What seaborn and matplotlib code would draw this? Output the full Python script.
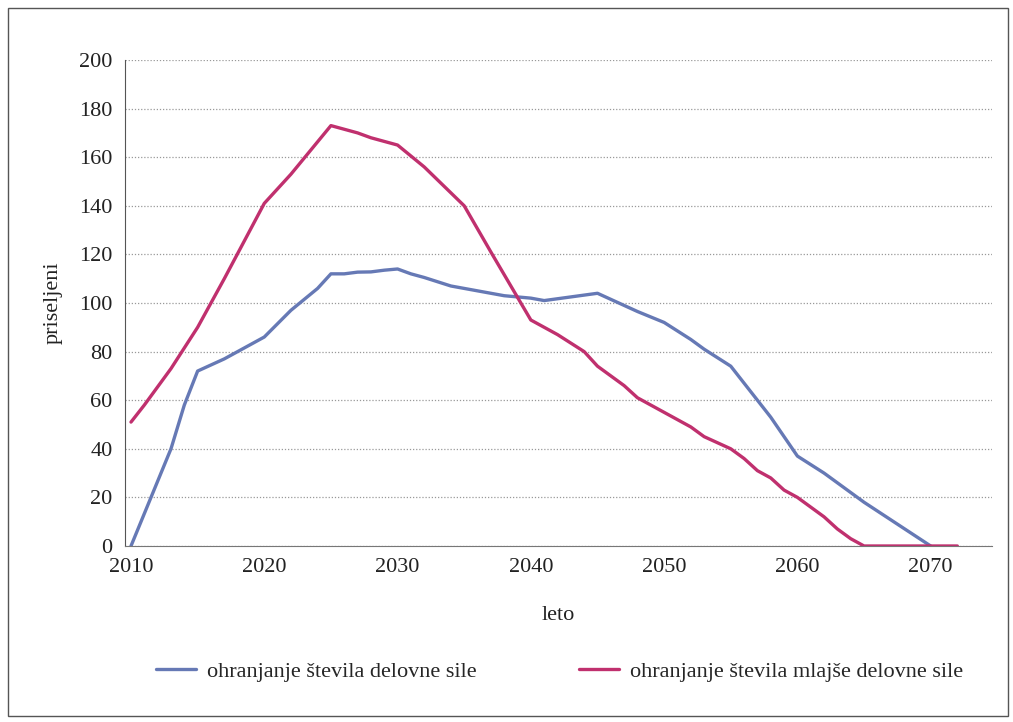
import numpy as np
import pandas as pd
import matplotlib
matplotlib.use("Agg")
import matplotlib.pyplot as plt
import seaborn as sns
from matplotlib.patches import Rectangle

# Podatki (odčitani z grafa)
leta_delovna = [2010, 2013, 2014, 2015, 2017, 2019, 2020, 2022, 2024, 2025, 2026, 2027,
                2028, 2029, 2030, 2031, 2032, 2034, 2036, 2037, 2038, 2040, 2041, 2043,
                2045, 2047, 2048, 2050, 2052, 2053, 2055, 2056, 2057, 2058, 2059, 2060,
                2062, 2065, 2070]
delovna_sila = [0, 40, 58, 72, 77, 83, 86, 97, 106, 112, 112, 112.7,
                112.8, 113.5, 114, 112, 110.5, 107, 105, 104, 103, 102, 101, 102.5,
                104, 99, 96.5, 92, 85, 81, 74, 67, 60, 53, 45, 37,
                30, 18, 0]

leta_mlajsa = [2010, 2011, 2013, 2015, 2017, 2020, 2022, 2025, 2027, 2028, 2030, 2032,
               2035, 2037, 2040, 2042, 2044, 2045, 2047, 2048, 2050, 2052, 2053, 2055,
               2056, 2057, 2058, 2059, 2060, 2062, 2063, 2064, 2065, 2066, 2068, 2070, 2072]
mlajsa_sila = [51, 58, 73, 90, 110, 141, 153, 173, 170, 168, 165, 156,
               140, 121, 93, 87, 80, 74, 66, 61, 55, 49, 45, 40,
               36, 31, 28, 23, 20, 12, 7, 3, 0, 0, 0, 0, 0]

oznaka_1 = "ohranjanje števila delovne sile"
oznaka_2 = "ohranjanje števila mlajše delovne sile"

df = pd.concat([
    pd.DataFrame({"leto": leta_delovna, "priseljeni": delovna_sila, "scenarij": oznaka_1}),
    pd.DataFrame({"leto": leta_mlajsa, "priseljeni": mlajsa_sila, "scenarij": oznaka_2}),
])

sns.set_style("white")
plt.rcParams["font.family"] = ["Liberation Serif", "DejaVu Serif"]

fig = plt.figure(figsize=(10.13, 7.22), dpi=100)
ax = fig.add_axes([125 / 1013, 176 / 722, 867 / 1013, 486 / 722])

sns.lineplot(data=df, x="leto", y="priseljeni", hue="scenarij", ax=ax,
             palette={oznaka_1: "#6679b5", oznaka_2: "#c0306e"},
             linewidth=2.4, sort=False, estimator=None)

ax.set_xlim(2009.55, 2074.6)
ax.set_ylim(0, 200)
ax.set_xticks(range(2010, 2071, 10))
ax.set_yticks(range(0, 201, 20))
ax.yaxis.grid(True, linestyle=(0, (1, 1.5)), color="#999999", linewidth=0.9)
ax.set_axisbelow(True)
for s in ["top", "right"]:
    ax.spines[s].set_visible(False)
ax.spines["left"].set_color("#555555")
ax.spines["bottom"].set_color("#777777")
ax.tick_params(axis="both", labelsize=16, direction="out", length=5,
               color="#555555", labelcolor="#222222")
ax.tick_params(axis="y", pad=4)
ax.set_xlabel("leto", fontsize=16, labelpad=21, color="#222222")
ax.set_ylabel("priseljeni", fontsize=16, labelpad=12, color="#222222")

ax.legend(loc="center", bbox_to_anchor=(0.501, -0.259), ncol=2, frameon=False,
          fontsize=16, columnspacing=4.6, handlelength=1.8, handletextpad=0.5)

fig.patches.append(Rectangle((8 / 1013, 6 / 722), 1000 / 1013, 708 / 722,
                             transform=fig.transFigure, fill=False,
                             edgecolor="#555555", linewidth=1.0))

fig.savefig("out.png", dpi=100)
